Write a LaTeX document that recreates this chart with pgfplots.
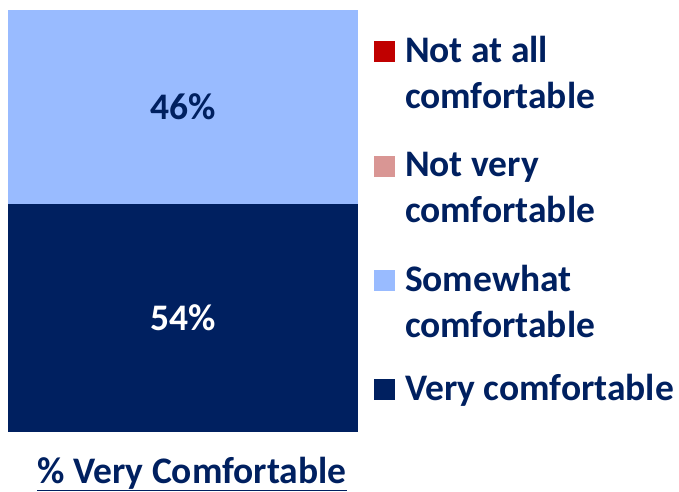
\documentclass[border=0pt]{standalone}
\usepackage{pgfplots}
\pgfplotsset{compat=1.18}
\usepackage{fontspec}
\setmainfont{Carlito}
\definecolor{navy}{HTML}{002060}
\definecolor{lightblue}{HTML}{99BBFF}
\definecolor{pinkish}{HTML}{D99694}
\definecolor{darkred}{HTML}{C00000}
\newcommand{\chartfont}{\fontsize{37.5}{46}\selectfont\bfseries}
\newcommand{\twoline}[2]{\begin{tabular}[t]{@{}l@{}}#1\\#2\end{tabular}}
\pgfplotsset{sqlegend/.style={legend image code/.code={\fill[##1] (0pt,0pt) rectangle (21pt,21pt);}}}

\begin{document}
\begin{tikzpicture}
\useasboundingbox (0,0) rectangle (679pt,491pt);
\begin{axis}[
    at={(8pt,59pt)}, anchor=south west,
    scale only axis, width=350pt, height=422pt,
    xmin=0, xmax=1, ymin=0, ymax=100,
    hide axis,
    ybar stacked, bar width=350pt,
    reverse legend,
    legend style={at={(1.0457,0.953)}, anchor=north west,
        draw=none, fill=none, inner sep=0pt, outer sep=0pt,
        column sep=10pt, row sep=81pt,
        cells={anchor=base west},
        nodes={inner sep=0pt, text=navy, font=\chartfont}},
    point meta=explicit symbolic,
    nodes near coords={\pgfplotspointmeta},
    every node near coord/.append style={anchor=center, font=\chartfont},
]
\addplot[sqlegend, fill=navy, draw=none,
    every node near coord/.append style={text=white}]
    coordinates {(0.5,54) [54\%]};
\addlegendentry{Very comfortable}
\addplot[sqlegend, fill=lightblue, draw=none,
    every node near coord/.append style={text=navy}]
    coordinates {(0.5,46) [46\%]};
\addlegendentry{\twoline{Somewhat}{comfortable}}
\addlegendimage{sqlegend, fill=pinkish, draw=none}
\addlegendentry{\twoline{Not very}{comfortable}}
\addlegendimage{sqlegend, fill=darkred, draw=none}
\addlegendentry{\twoline{Not at all}{comfortable}}
\end{axis}
\node[anchor=base, text=navy, font=\chartfont] at (192pt,8pt) {\underline{\% Very Comfortable}};
\end{tikzpicture}
\end{document}
